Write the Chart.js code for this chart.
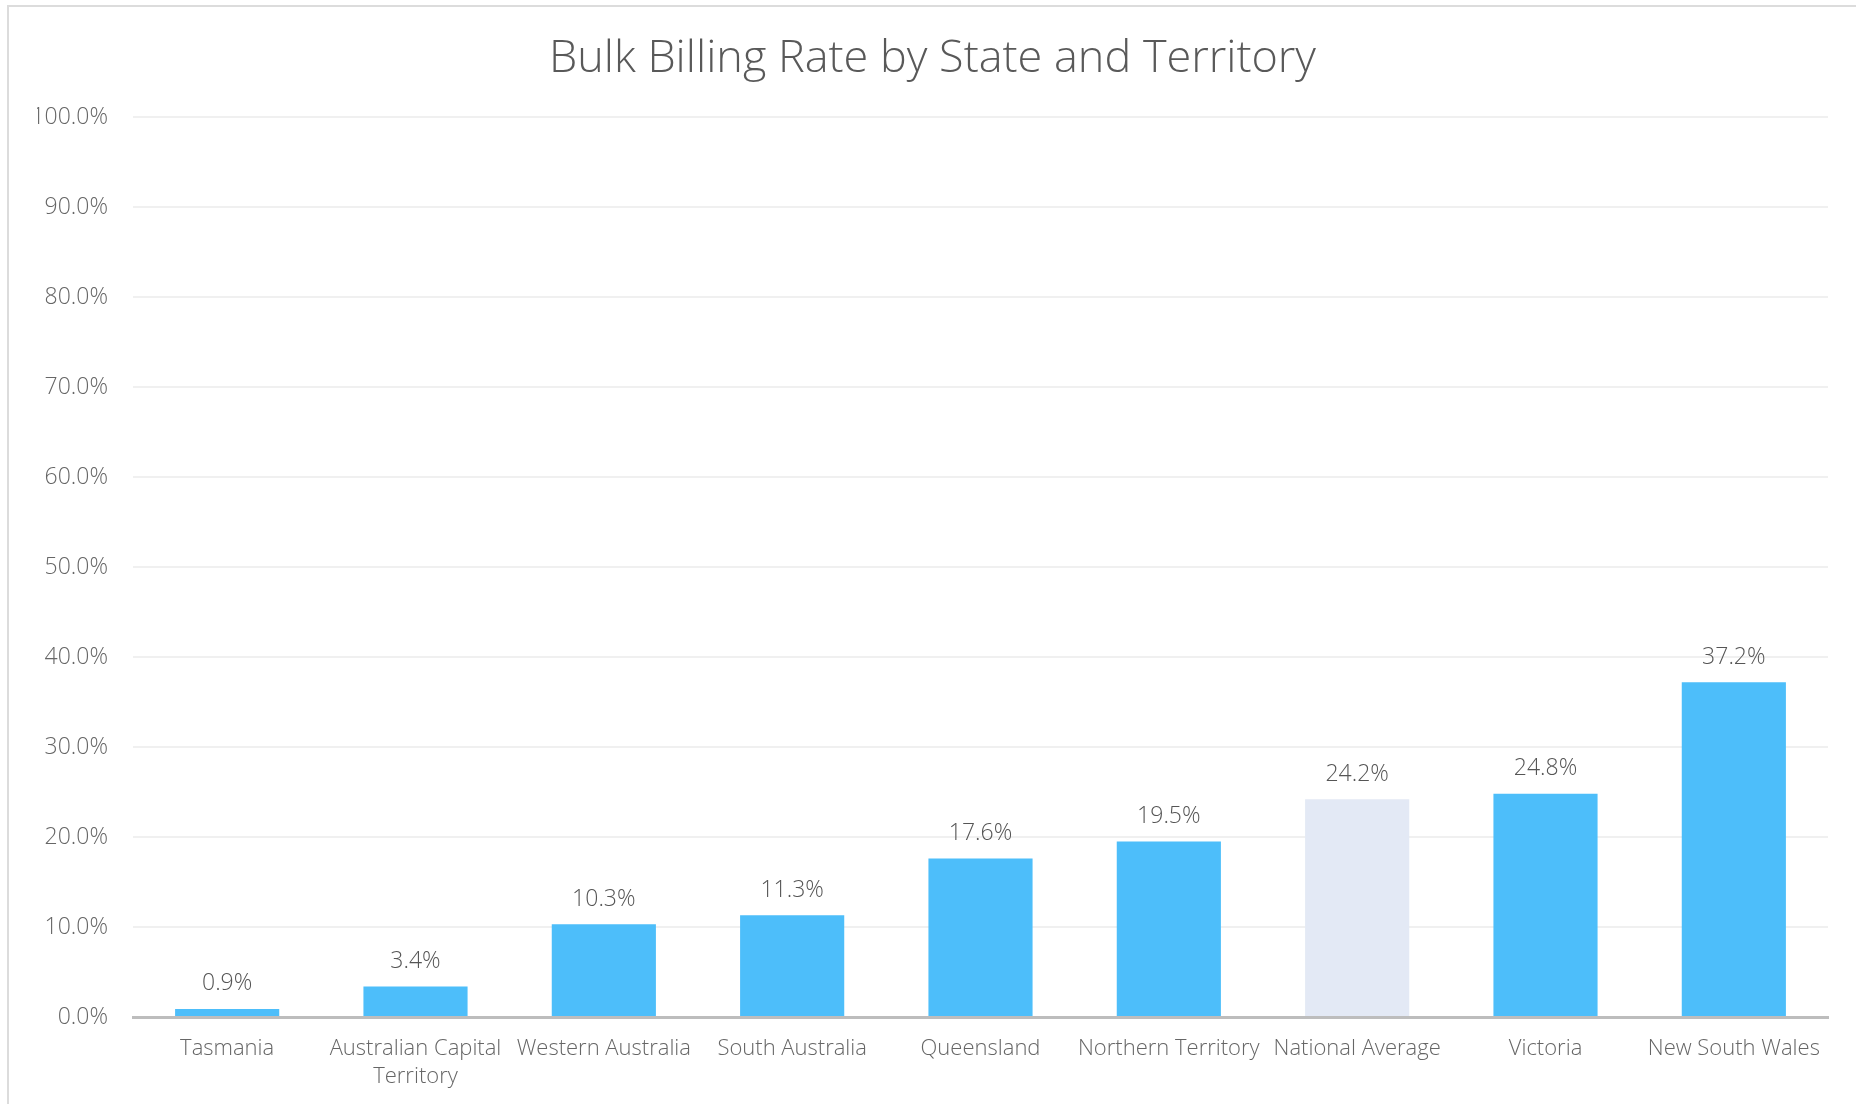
<!DOCTYPE html>
<html>
<head>
<meta charset="utf-8">
<title>Bulk Billing Rate by State and Territory</title>
<script src="https://cdn.jsdelivr.net/npm/chart.js@4/dist/chart.umd.min.js"></script>
<style>
  html, body { margin: 0; padding: 0; background: #fff; }
  #frame {
    position: absolute;
    left: 7px; top: 5px;
    width: 1849px; height: 1099px;
    border-top: 2px solid #dcdcdc;
    border-left: 2px solid #dcdcdc;
    box-sizing: border-box;
  }
  #wrap { position: absolute; left: 0; top: 0; width: 1847px; height: 1097px; }
</style>
</head>
<body>
<div id="frame"><div id="wrap"><canvas id="chart"></canvas></div></div>
<script>
// data
const categories = ['Tasmania', 'Australian Capital Territory', 'Western Australia', 'South Australia',
  'Queensland', 'Northern Territory', 'National Average', 'Victoria', 'New South Wales']
const rates = [0.9, 3.4, 10.3, 11.3, 17.6, 19.5, 24.2, 24.8, 37.2]
const highlight = 'National Average'
const yTicks = [0, 10, 20, 30, 40, 50, 60, 70, 80, 90, 100]

const BLUE = '#4dbefa'
const GREY = '#e3e9f5'
const FONT = "'Open Sans', 'Noto Sans', sans-serif"

// value labels above each bar
const barLabels = {
  id: 'barLabels',
  afterDatasetsDraw(chart) {
    const ctx = chart.ctx
    const meta = chart.getDatasetMeta(0)
    ctx.save()
    ctx.font = '300 23px ' + FONT
    ctx.fillStyle = '#555'
    ctx.textAlign = 'center'
    ctx.textBaseline = 'middle'
    meta.data.forEach((bar, i) => {
      ctx.fillText(rates[i].toFixed(1) + '%', bar.x, bar.y - 25)
    })
    ctx.restore()
  }
}

const ctx = document.getElementById('chart')
new Chart(ctx, {
  type: 'bar',
  data: {
    labels: categories,
    datasets: [{
      data: rates,
      backgroundColor: categories.map(c => c === highlight ? GREY : BLUE),
      borderWidth: 0,
      barPercentage: 0.553,
      categoryPercentage: 1
    }]
  },
  options: {
    responsive: true,
    maintainAspectRatio: false,
    animation: false,
    // equal side padding keeps the title centred on the canvas
    layout: { padding: { left: 28, right: 28, top: 0, bottom: 0 } },
    plugins: {
      legend: { display: false },
      tooltip: { enabled: false },
      title: {
        display: true,
        text: 'Bulk Billing Rate by State and Territory',
        color: '#595959',
        font: { family: FONT, size: 45, weight: 300, lineHeight: 1.2 },
        padding: { top: 25, bottom: 31 }
      }
    },
    scales: {
      x: {
        afterFit(scale) { scale.height = 87 },
        grid: { display: false, drawTicks: false },
        border: { display: true, color: '#bdbdbd', width: 3 },
        ticks: {
          color: '#666',
          padding: 17,
          maxRotation: 0,
          autoSkip: false,
          font: { family: FONT, size: 22, weight: 300, lineHeight: 1.3 },
          callback(value) {
            const label = this.getLabelForValue(value)
            if (label.length > 20) {
              const cut = label.lastIndexOf(' ')
              return [label.slice(0, cut), label.slice(cut + 1)]
            }
            return label
          }
        }
      },
      y: {
        min: 0,
        max: 100,
        afterFit(scale) { scale.width = 96 },
        afterBuildTicks(scale) { scale.ticks = yTicks.map(v => ({ value: v })) },
        grid: { color: '#f0f0f0', lineWidth: 2, drawTicks: false },
        border: { display: false },
        ticks: {
          color: '#666',
          padding: 25,
          font: { family: FONT, size: 23, weight: 300 },
          callback: v => v.toFixed(1) + '%'
        }
      }
    }
  },
  plugins: [barLabels]
})
</script>
</body>
</html>
